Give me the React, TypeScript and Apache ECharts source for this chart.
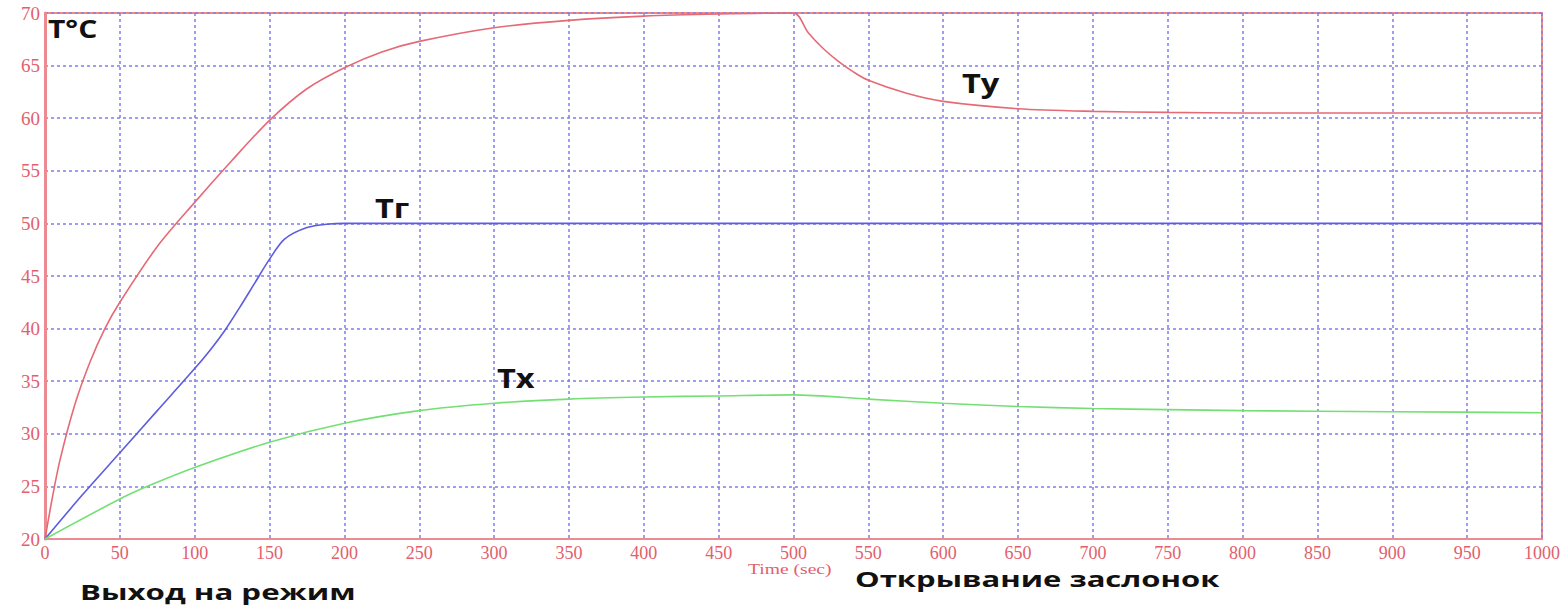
import React, { useEffect, useRef } from "react";
import * as echarts from "echarts";

// Ту (red)
const tyTime = [0, 5, 10, 20, 30, 40, 50, 75, 100, 125, 150, 175, 200, 225, 250, 300, 350, 400, 450, 500, 510, 520, 530, 540, 550, 575, 600, 650, 700, 750, 800, 900, 1000];
const tyTemp = [20, 24, 27.5, 32.8, 36.8, 40, 42.5, 47.8, 52, 56, 59.8, 62.8, 64.8, 66.3, 67.3, 68.6, 69.3, 69.7, 69.9, 70, 68.1, 66.6, 65.4, 64.4, 63.6, 62.4, 61.6, 60.9, 60.65, 60.55, 60.5, 60.5, 60.5];
// Тг (blue)
const tgTime = [0, 25, 50, 75, 100, 110, 120, 130, 140, 150, 160, 175, 190, 200, 300, 500, 1000];
const tgTemp = [20, 24.2, 28.2, 32.2, 36.2, 37.9, 39.8, 42, 44.3, 46.6, 48.5, 49.6, 49.95, 50, 50, 50, 50];
// Тх (green)
const txTime = [0, 50, 70, 100, 150, 200, 250, 300, 350, 400, 450, 500, 550, 600, 650, 700, 750, 800, 900, 1000];
const txTemp = [20, 23.8, 25.1, 26.8, 29.2, 31, 32.2, 32.9, 33.3, 33.5, 33.6, 33.7, 33.3, 32.9, 32.6, 32.4, 32.3, 32.2, 32.1, 32.0];

const xMin = 0, xMax = 1000, xStep = 50;
const yMin = 20, yMax = 70, yStep = 5;

const zip = (xs: number[], ys: number[]) => xs.map((x, i) => [x, ys[i]]);

export default function App() {
  const ref = useRef<HTMLDivElement>(null);
  useEffect(() => {
    if (!ref.current) return;
    const chart = echarts.init(ref.current, null, { renderer: "svg" });
    const labelColor = "#e2606c";
    const frame = "#ec8a92";
    const gridLine = { show: true, lineStyle: { color: "#7d7df0", type: [3, 3] as any, width: 1.5 } };
    const mkSeries = (name: string, xs: number[], ys: number[], color: string) => ({
      name,
      type: "line",
      data: zip(xs, ys),
      smooth: 0.3,
      showSymbol: false,
      lineStyle: { color, width: 1.6 },
      z: 3,
    });
    const bold = (size: number) => `bold ${size}px 'Open Sans', sans-serif`;
    const txt = (text: string, x: number, y: number, size: number, sx: number) => ({
      type: "text", x, y, scaleX: sx, z: 10,
      style: { text, font: bold(size), fill: "#111", verticalAlign: "top", align: "left" },
    });
    chart.setOption({
      animation: false,
      backgroundColor: "#ffffff",
      grid: {
        left: 45, right: 14, top: 13, bottom: 74,
        show: true, borderColor: frame, borderWidth: 2, backgroundColor: "transparent",
      },
      xAxis: {
        type: "value", min: xMin, max: xMax, interval: xStep,
        axisLine: { show: true, lineStyle: { color: frame, width: 2 } },
        axisTick: { show: false },
        axisLabel: { color: labelColor, fontFamily: "Liberation Serif", fontSize: 18, margin: 5, formatter: (v: number) => String(v) },
        splitLine: gridLine,
      },
      yAxis: {
        type: "value", min: yMin, max: yMax, interval: yStep,
        axisLine: { show: true, lineStyle: { color: frame, width: 3 } },
        axisTick: { show: false },
        axisLabel: { color: labelColor, fontFamily: "Liberation Serif", fontSize: 19, margin: 5 },
        splitLine: gridLine,
      },
      series: [
        mkSeries("Ту", tyTime, tyTemp, "#e66a76"),
        mkSeries("Тг", tgTime, tgTemp, "#5c5ce0"),
        mkSeries("Тх", txTime, txTemp, "#74e074"),
      ],
      graphic: [
        txt("T°C", 48, 16, 25, 1.2),
        txt("Ту", 962, 70, 26, 1.25),
        txt("Тг", 375, 195, 26, 1.25),
        txt("Тх", 497, 365, 26, 1.25),
        {
          type: "text", x: 748, y: 562, scaleX: 1.4, z: 10,
          style: { text: "Time (sec)", font: "14px 'Liberation Serif', serif", fill: labelColor, verticalAlign: "top" },
        },
        txt("Выход на режим", 80, 580, 22, 1.42),
        txt("Открывание заслонок", 855, 567, 22, 1.41),
      ],
    });
    return () => chart.dispose();
  }, []);
  return <div ref={ref} style={{ position: "absolute", left: 0, top: 0, width: 1563, height: 613 }} />;
}
